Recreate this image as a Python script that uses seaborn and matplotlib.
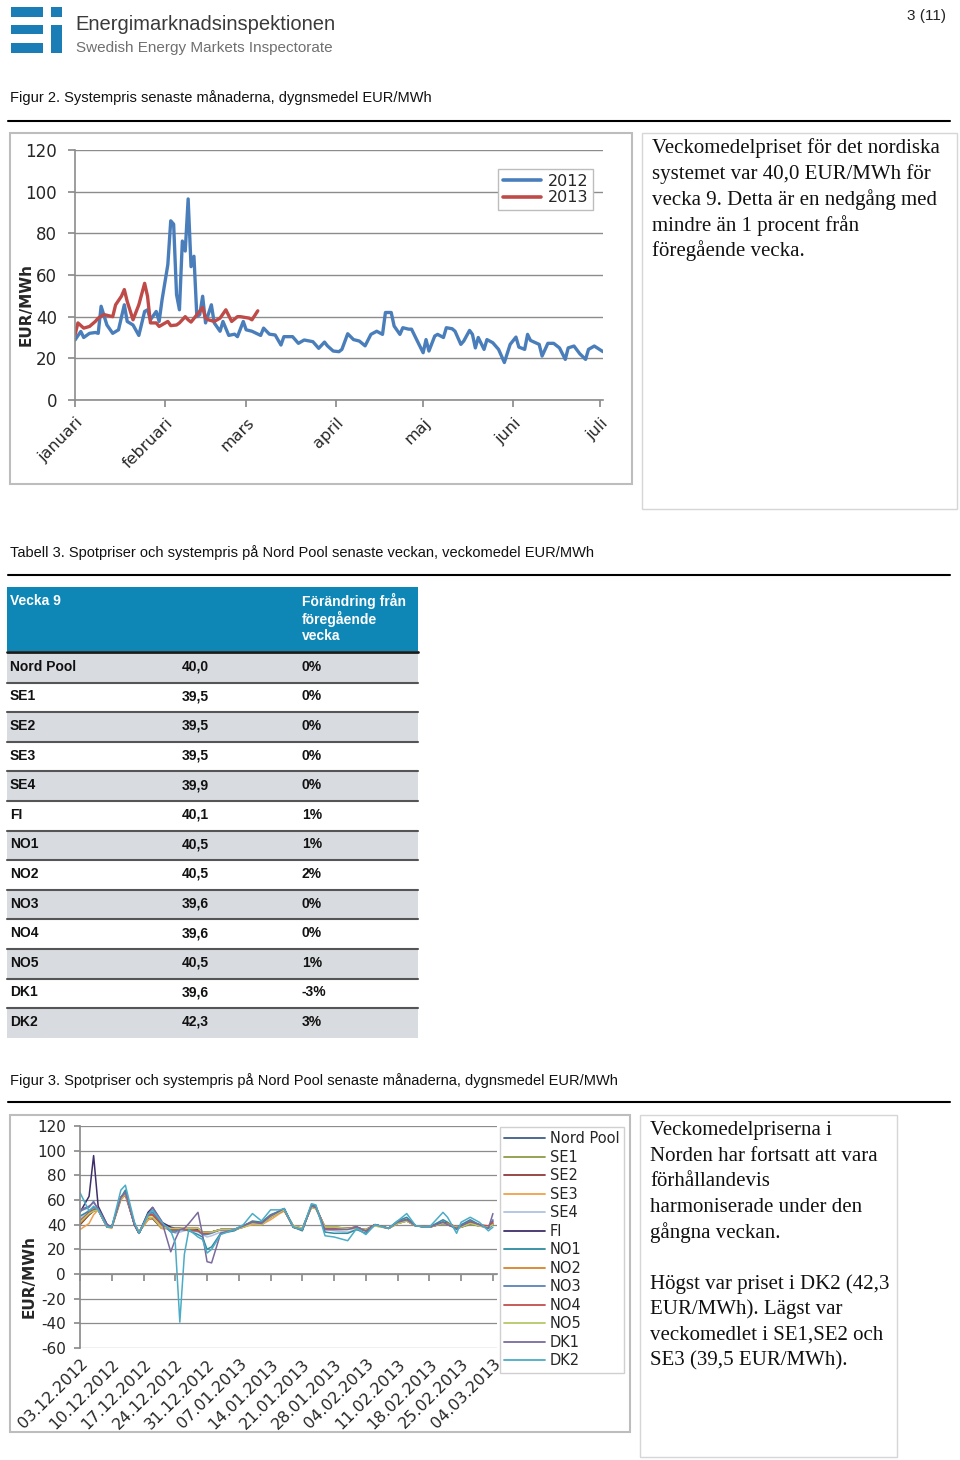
import numpy as np
import pandas as pd
import matplotlib
matplotlib.use("Agg")
import matplotlib.pyplot as plt
import seaborn as sns
from matplotlib.patches import Rectangle
from matplotlib.lines import Line2D

# ---------------- data: Figur 2 (systempris, dygnsmedel) ----------------
month_days = [0, 31, 59, 90, 120, 151, 181]
month_labels = ["januari", "februari", "mars", "april", "maj", "juni", "juli"]

days_2012 = [0, 2, 3, 5, 7, 8, 9, 11, 13, 15, 17, 18, 20, 22, 24, 25, 26, 28, 29, 30,
             32, 33, 34, 35, 36, 37, 38, 39, 40, 41, 42, 43, 44, 45, 47, 48, 50, 51, 53, 55,
             56, 58, 59, 61, 64, 65, 67, 69, 71, 72, 75, 77, 79, 82, 84, 86, 87, 89, 91, 92,
             94, 96, 98, 100, 102, 104, 106, 107, 109, 110, 112, 113, 115, 116, 118, 120, 121, 122, 124, 125,
             127, 128, 130, 131, 133, 134, 136, 137, 138, 139, 141, 142, 144, 146, 148, 150, 152, 153, 155, 156,
             157, 160, 161, 163, 165, 167, 169, 170, 172, 174, 176, 177, 179, 182]
price_2012 = [28.8, 32.9, 30, 32, 32.4, 32, 45, 36, 32, 33.7, 45.7, 37.7, 36, 31, 42.5, 43.3, 38.5, 42.5, 37.7, 48,
              65, 86, 84.4, 50.6, 43.3, 76.3, 71.5, 96.5, 64, 69, 40, 41, 49.8, 37, 45.7, 37, 33, 37.7, 31, 31.6,
              30.4, 37.7, 33.7, 33, 31, 34.5, 31.6, 31.2, 26.4, 30.4, 30.4, 27.2, 28.8, 28, 24.8, 27.8, 26, 23.5, 23.2, 24.3,
              31.8, 29, 28.3, 26, 31.5, 33, 31.5, 42, 42, 35.5, 31.5, 34.7, 34, 34, 28.3, 22.7, 29, 23.5, 30.7, 31.5,
              30, 34.7, 34.2, 33, 26.7, 28.3, 33.4, 31.5, 25, 30, 24.3, 29, 27.5, 24.3, 18, 26.7, 30.2, 25.4, 24.3, 31.5,
              28.6, 26.7, 21.1, 27.2, 27.2, 25, 19.5, 25, 25.9, 22.2, 19.5, 24.3, 25.9, 23.2]

days_2013 = [0, 1, 3, 5, 7, 8, 10, 13, 14, 16, 17, 18, 20, 22, 24, 25, 26, 28, 29, 32,
             33, 35, 36, 38, 39, 40, 44, 45, 46, 48, 50, 52, 54, 56, 57, 60, 61, 63]
price_2013 = [31.2, 37, 34.5, 35.3, 37.7, 39.3, 41, 40, 45.7, 49.8, 53, 47.3, 38.5, 45.7, 56, 49.8, 37, 37, 35.3, 37.7,
              35.7, 36, 37, 40, 38.5, 37.4, 44.4, 39.3, 38.5, 37.7, 39.3, 43.3, 37.7, 40, 40, 39.3, 38.5, 42.8]

# ---------------- data: Tabell 3 ----------------
areas = ["Nord Pool", "SE1", "SE2", "SE3", "SE4", "FI", "NO1", "NO2", "NO3", "NO4", "NO5", "DK1", "DK2"]
week_prices = ["40,0", "39,5", "39,5", "39,5", "39,9", "40,1", "40,5", "40,5", "39,6", "39,6", "40,5", "39,6", "42,3"]
week_change = ["0%", "0%", "0%", "0%", "0%", "1%", "1%", "2%", "0%", "0%", "1%", "-3%", "3%"]

# ---------------- data: Figur 3 (spotpriser, dygnsmedel) ----------------
week_ticks = [0, 7, 14, 21, 28, 35, 42, 49, 56, 63, 70, 77, 84, 91]
week_labels = ["03.12.2012", "10.12.2012", "17.12.2012", "24.12.2012", "31.12.2012", "07.01.2013",
               "14.01.2013", "21.01.2013", "28.01.2013", "04.02.2013", "11.02.2013", "18.02.2013",
               "25.02.2013", "04.03.2013"]
spot_days = [0, 2, 3, 4, 6, 7, 9, 10, 12, 13, 15, 16, 18, 20, 21, 22, 23, 24, 26, 27,
             28, 29, 31, 34, 36, 38, 40, 42, 44, 45, 47, 49, 51, 52, 54, 56, 59, 61, 63, 65,
             68, 70, 72, 74, 77, 80, 81, 83, 84, 86, 88, 90, 91]
nordpool = [43, 50, 52, 52, 38, 38, 62, 66, 40, 33, 48, 48, 40, 36, 36, 37, 36, 36, 35, 33,
            33, 34, 36, 36, 39, 42, 41, 47, 50, 52, 38, 36, 55, 54, 37, 37, 37, 38, 35, 40,
            37, 42, 44, 39, 38, 41, 40, 37, 38, 41, 39, 38, 41]
se1 = [40, 48, 51, 52, 38, 38, 61, 65, 41, 34, 44, 45, 37, 37, 37, 37, 37, 37, 37, 34,
       34, 34, 36, 36, 38, 41, 40, 46, 50, 52, 39, 37, 54, 53, 38, 38, 37, 37, 36, 40,
       37, 41, 43, 39, 38, 42, 41, 38, 38, 40, 39, 38, 40]
se2 = [40, 48, 51, 52, 38, 38, 61, 66, 41, 34, 45, 45, 37, 37, 37, 37, 37, 37, 37, 34,
       34, 34, 36, 36, 38, 41, 40, 46, 50, 52, 39, 37, 55, 54, 38, 38, 37, 37, 36, 40,
       37, 41, 43, 39, 38, 42, 41, 38, 38, 41, 39, 38, 40]
se3 = [36, 41, 48, 52, 38, 37, 60, 64, 41, 34, 44, 46, 37, 37, 37, 37, 37, 37, 37, 34,
       34, 34, 36, 36, 38, 40, 40, 44, 49, 51, 39, 37, 54, 53, 38, 38, 37, 37, 36, 39,
       37, 41, 43, 39, 38, 41, 41, 38, 38, 42, 39, 38, 40]
se4 = [45, 52, 53, 52, 38, 38, 62, 67, 40, 33, 49, 50, 42, 36, 33, 34, 35, 36, 34, 32,
       30, 31, 34, 36, 39, 42, 42, 48, 51, 53, 38, 36, 56, 55, 36, 35, 34, 36, 35, 40,
       37, 43, 45, 39, 38, 43, 41, 37, 39, 42, 39, 37, 41]
fi = [50, 63, 96, 55, 40, 38, 62, 66, 40, 33, 50, 54, 42, 38, 37, 37, 36, 36, 36, 34,
      34, 34, 36, 36, 39, 42, 41, 47, 51, 53, 38, 36, 55, 54, 37, 37, 37, 38, 35, 40,
      37, 42, 44, 39, 38, 42, 41, 38, 39, 42, 40, 38, 43]
no1 = [47, 51, 54, 52, 38, 38, 62, 68, 40, 33, 49, 50, 40, 35, 35, 36, 36, 35, 32, 30,
       20, 22, 33, 35, 39, 43, 42, 48, 51, 53, 38, 35, 56, 55, 34, 33, 33, 36, 33, 40,
       37, 43, 46, 39, 38, 44, 42, 36, 40, 44, 40, 37, 40]
no2 = [41, 49, 52, 52, 38, 38, 62, 66, 40, 33, 47, 48, 40, 36, 36, 37, 36, 36, 35, 33,
       33, 34, 36, 36, 39, 42, 41, 47, 50, 52, 38, 36, 55, 54, 37, 37, 37, 38, 35, 40,
       37, 42, 44, 39, 38, 41, 41, 38, 38, 42, 39, 38, 41]
no3 = [51, 54, 59, 52, 38, 38, 62, 66, 40, 33, 48, 50, 41, 34, 34, 36, 36, 35, 35, 32,
       32, 33, 36, 36, 39, 42, 41, 47, 50, 52, 38, 36, 55, 54, 37, 37, 37, 38, 35, 40,
       37, 42, 44, 39, 38, 41, 40, 37, 38, 41, 40, 38, 44]
no4 = [43, 50, 52, 52, 38, 38, 62, 64, 40, 33, 48, 48, 40, 36, 36, 37, 36, 36, 35, 33,
       33, 34, 36, 36, 39, 42, 41, 47, 50, 52, 38, 36, 55, 53, 37, 37, 37, 38, 35, 40,
       37, 42, 44, 39, 38, 41, 40, 38, 38, 42, 40, 39, 42]
no5 = [42, 49, 51, 52, 38, 38, 61, 65, 41, 34, 46, 46, 38, 37, 37, 37, 37, 37, 37, 34,
       34, 34, 36, 36, 38, 41, 40, 46, 50, 52, 39, 37, 54, 53, 38, 38, 37, 37, 36, 39,
       37, 41, 43, 39, 38, 41, 40, 38, 38, 41, 39, 38, 40]
dk1 = [52, 55, 58, 53, 40, 38, 62, 66, 40, 33, 48, 54, 43, 18, 28, 36, 37, 41, 50, 32,
       10, 9, 33, 36, 39, 42, 41, 47, 51, 53, 38, 36, 55, 54, 36, 36, 36, 38, 35, 40,
       37, 42, 44, 39, 38, 42, 40, 37, 39, 43, 40, 37, 49]
dk2 = [66, 51, 55, 52, 38, 38, 68, 72, 42, 33, 48, 52, 42, 35, 25, -39, 16, 36, 30, 28,
       17, 20, 32, 36, 40, 49, 43, 52, 52, 53, 38, 36, 57, 56, 31, 30, 27, 37, 32, 40,
       37, 43, 49, 39, 38, 50, 46, 33, 42, 46, 42, 35, 38]
spot_series = [nordpool, se1, se2, se3, se4, fi, no1, no2, no3, no4, no5, dk1, dk2]

# ---------------- styling ----------------
sns.set_theme(style="white")
plt.rcParams["font.family"] = ["DejaVu Sans"]
plt.rcParams["axes.unicode_minus"] = False

W, H = 960, 1460
fig = plt.figure(figsize=(W / 100, H / 100), dpi=100)
fig.patch.set_facecolor("white")

def fx(px):
    return px / W

def fy(py):
    return 1 - py / H

SANS = ["Liberation Sans", "DejaVu Sans"]
SERIF = ["Liberation Serif", "DejaVu Serif"]

def ftext(x, y, s, **kw):
    fig.text(fx(x), fy(y), s, transform=fig.transFigure, **kw)

def frect(x0, y0, x1, y1, **kw):
    fig.add_artist(Rectangle((fx(x0), fy(y1)), fx(x1) - fx(x0), (y1 - y0) / H,
                             transform=fig.transFigure, **kw))

def fline(x0, x1, y, **kw):
    fig.add_artist(Line2D([fx(x0), fx(x1)], [fy(y), fy(y)], transform=fig.transFigure, **kw))

# ---------------- header / logo ----------------
logo_c = "#1B7DB6"
for (a, b, c, d) in [(11, 7, 43, 17), (51, 7, 62, 17), (11, 25, 43, 34), (11, 43, 43, 53), (51, 25, 62, 53)]:
    frect(a, b, c, d, fc=logo_c, ec="none")
ftext(75, 25, "Energimarknadsinspektionen", fontsize=14.5, color="#3a3a3a", family=SANS, va="center")
ftext(76, 48, "Swedish Energy Markets Inspectorate", fontsize=11, color="#707070", family=SANS, va="center")
ftext(946, 16, "3 (11)", fontsize=11, color="#222222", family=SANS, ha="right", va="center")

ftext(10, 98, "Figur 2. Systempris senaste månaderna, dygnsmedel EUR/MWh", fontsize=10.5,
      family=SANS, va="center", color="#111111")
fline(8, 950, 121, color="black", lw=1.5)
ftext(10, 553, "Tabell 3. Spotpriser och systempris på Nord Pool senaste veckan, veckomedel EUR/MWh",
      fontsize=10.5, family=SANS, va="center", color="#111111")
fline(8, 950, 575, color="black", lw=1.5)
ftext(10, 1081, "Figur 3. Spotpriser och systempris på Nord Pool senaste månaderna, dygnsmedel EUR/MWh",
      fontsize=10.5, family=SANS, va="center", color="#111111")
fline(8, 950, 1102, color="black", lw=1.5)

# boxes
frect(10, 133, 632, 484, fc="none", ec="#BDBDBD", lw=1.5)
frect(642, 133, 957, 509, fc="none", ec="#D6D6D6", lw=1)
frect(10, 1115, 630, 1432, fc="none", ec="#BDBDBD", lw=1.5)
frect(640, 1115, 897, 1457, fc="none", ec="#D6D6D6", lw=1)

top_lines = ["Veckomedelpriset för det nordiska", "systemet var 40,0 EUR/MWh för",
             "vecka 9. Detta är en nedgång med", "mindre än 1 procent från", "föregående vecka."]
for i, s in enumerate(top_lines):
    ftext(652, 148 + i * 25.7, s, fontsize=15, family=SERIF, va="center", color="#111111")

bot_lines = ["Veckomedelpriserna i", "Norden har fortsatt att vara", "förhållandevis",
             "harmoniserade under den", "gångna veckan.", "",
             "Högst var priset i DK2 (42,3", "EUR/MWh). Lägst var", "veckomedlet i SE1,SE2 och",
             "SE3 (39,5 EUR/MWh)."]
for i, s in enumerate(bot_lines):
    ftext(650, 1131 + i * 25.5, s, fontsize=15, family=SERIF, va="center", color="#111111")

# ---------------- Figur 2 ----------------
ax1 = fig.add_axes([fx(75), fy(400), fx(603) - fx(75), (400 - 150) / H])
df_top = pd.concat([
    pd.DataFrame({"dag": days_2012, "pris": price_2012, "år": "2012"}),
    pd.DataFrame({"dag": days_2013, "pris": price_2013, "år": "2013"}),
], ignore_index=True)
top_pal = {"2012": "#4A7EBB", "2013": "#BE4B48"}
sns.lineplot(data=df_top, x="dag", y="pris", hue="år", palette=top_pal, linewidth=2.4,
             ax=ax1, legend=False, estimator=None, sort=False)
ax1.set_xlim(0, 182)
ax1.set_ylim(0, 120)
ax1.set_yticks(np.arange(0, 121, 20))
ax1.set_xticks(month_days)
ax1.set_xticklabels(month_labels, rotation=45, ha="right", rotation_mode="anchor")
ax1.grid(axis="y", color="#8C8C8C", lw=1)
ax1.grid(axis="x", visible=False)
for s in ["top", "right"]:
    ax1.spines[s].set_visible(False)
for s in ["left", "bottom"]:
    ax1.spines[s].set_color("#8C8C8C")
    ax1.spines[s].set_linewidth(1.2)
ax1.tick_params(axis="y", which="major", direction="out", length=5, color="#8C8C8C", labelsize=12, pad=8, left=True)
ax1.tick_params(axis="x", which="major", direction="out", length=5, color="#8C8C8C", labelsize=11.5, pad=6, bottom=True)
ax1.set_xlabel("")
ax1.set_ylabel("EUR/MWh", fontsize=11, fontweight="bold")
ax1.yaxis.set_label_coords(-0.078, 0.38)
handles = [Line2D([], [], color=top_pal[k], lw=2.6) for k in ["2012", "2013"]]
ax1.legend(handles, ["2012", "2013"], loc="upper right", bbox_to_anchor=(0.981, 0.925), fontsize=11.5,
           frameon=True, fancybox=False, edgecolor="#BDBDBD", framealpha=1, borderaxespad=0,
           handlelength=2.4, handletextpad=0.4, labelspacing=0.1, borderpad=0.3)

# ---------------- Tabell 3 ----------------
header_c = "#0E87B7"
frect(7, 587, 418, 651, fc=header_c, ec="none")
ftext(10, 601, "Vecka 9", fontsize=10, fontweight="bold", color="white", family=SANS, va="center")
for i, s in enumerate(["Förändring från", "föregående", "vecka"]):
    ftext(302, 601 + i * 17.5, s, fontsize=10, fontweight="bold", color="white", family=SANS, va="center")
fline(7, 418, 652, color="#1a1a1a", lw=2)
row_h = 29.6
for i, (a, p, c) in enumerate(zip(areas, week_prices, week_change)):
    top = 653 + i * row_h
    if i % 2 == 0:
        frect(7, top, 418, top + row_h, fc="#D8DBDF", ec="none")
    yc = top + row_h / 2 - 1
    ftext(10, yc, a, fontsize=10, fontweight="bold", color="#111111", family=SANS, va="center")
    ftext(182, yc, p, fontsize=10, fontweight="bold", color="#111111", family=SANS, va="center")
    ftext(302, yc, c, fontsize=10, fontweight="bold", color="#111111", family=SANS, va="center")
    if i < len(areas) - 1:
        fline(7, 418, top + row_h, color="#555555", lw=1.5)

# ---------------- Figur 3 ----------------
ax2 = fig.add_axes([fx(80), fy(1348), fx(497) - fx(80), (1348 - 1126) / H])
spot_pal = {"Nord Pool": "#3F5E86", "SE1": "#8E9B45", "SE2": "#8F3B3A", "SE3": "#F0A04B",
            "SE4": "#AFC3E0", "FI": "#3E2F6B", "NO1": "#2E8BA0", "NO2": "#D9822B",
            "NO3": "#5B84B8", "NO4": "#C0504D", "NO5": "#B5C86A", "DK1": "#7A6A9E", "DK2": "#4BACC6"}
df_spot = pd.concat([pd.DataFrame({"dag": spot_days, "pris": vals, "område": name})
                     for name, vals in zip(areas, spot_series)], ignore_index=True)
sns.lineplot(data=df_spot, x="dag", y="pris", hue="område", hue_order=areas, palette=spot_pal,
             linewidth=1.1, ax=ax2, legend=False, estimator=None, sort=False)
ax2.set_xlim(0, 91.9)
ax2.set_ylim(-60, 120)
ax2.set_yticks(np.arange(-60, 121, 20))
ax2.grid(axis="y", color="#8C8C8C", lw=0.9)
ax2.grid(axis="x", visible=False)
for s in ["top", "right"]:
    ax2.spines[s].set_visible(False)
ax2.spines["left"].set_color("#8C8C8C")
ax2.spines["bottom"].set_color("#8C8C8C")
ax2.spines["bottom"].set_position(("data", 0))
ax2.set_xticks(week_ticks)
ax2.tick_params(axis="x", direction="out", length=5, color="#8C8C8C", labelbottom=False, bottom=True)
ax2.tick_params(axis="y", direction="out", length=4, color="#8C8C8C", labelsize=11, pad=6, left=True)
ax2.set_xlabel("")
ax2.set_ylabel("EUR/MWh", fontsize=11, fontweight="bold")
ax2.yaxis.set_label_coords(-0.105, 0.32)
sec = ax2.secondary_xaxis("bottom")
sec.set_xticks(week_ticks)
sec.set_xticklabels(week_labels, rotation=45, ha="right", rotation_mode="anchor")
sec.tick_params(length=0, labelsize=11.5, pad=6)
sec.spines["bottom"].set_visible(False)

leg_handles = [Line2D([], [], color=spot_pal[a], lw=1.3) for a in areas]
fig.legend(leg_handles, areas, loc="upper left", bbox_to_anchor=(fx(500), fy(1127)), fontsize=10.5,
           frameon=True, fancybox=False, edgecolor="#D0D0D0", framealpha=1, borderaxespad=0,
           handlelength=2.8, handletextpad=0.3, labelspacing=0.24, borderpad=0.3)

fig.savefig("out.png", dpi=100, facecolor="white")
